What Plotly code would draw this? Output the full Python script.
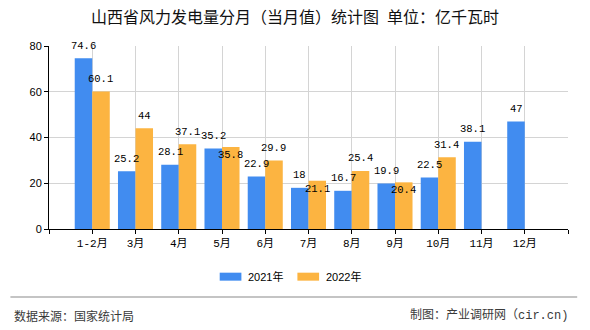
import plotly.graph_objects as go

categories = ["1-2月", "3月", "4月", "5月", "6月", "7月", "8月", "9月", "10月", "11月", "12月"]
values_2021 = [74.6, 25.2, 28.1, 35.2, 22.9, 18, 16.7, 19.9, 22.5, 38.1, 47]
values_2022 = [60.1, 44, 37.1, 35.8, 29.9, 21.1, 25.4, 20.4, 31.4, None, None]
series_names = ["2021年", "2022年"]
# label placement: "out" above bar top, "in" just inside the bar top
place_2021 = ["out"] * 11
place_2022 = ["out", "out", "out", "in", "out", "in", "out", "in", "out", "out", "out"]

y_ticks = [0, 20, 40, 60, 80]
title_text = "山西省风力发电量分月（当月值）统计图\u2002单位：亿千瓦时"
source_text = "数据来源：国家统计局"
credit_text = "制图：产业调研网（cir.cn)"

BLUE = "#418CF0"
ORANGE = "#FCB441"
W, H = 590, 330
ML, MR, MT, MB = 49.3, 21.7, 46, 100.5
PW = W - ML - MR
PH = H - MT - MB

xs = list(range(len(categories)))

fig = go.Figure()
fig.add_trace(go.Bar(x=xs, y=values_2021, name=series_names[0], marker_color=BLUE,
                     marker_line_width=0, showlegend=False))
fig.add_trace(go.Bar(x=xs, y=values_2022, name=series_names[1], marker_color=ORANGE,
                     marker_line_width=0, showlegend=False))

def fmt(v):
    return ("%g" % v)

lab_font = dict(family="Liberation Mono, DejaVu Sans Mono, monospace", size=10.5, color="#000")
annotations = []
half = 8.7
for vals, places, sh in ((values_2021, place_2021, -half), (values_2022, place_2022, half)):
    for i, (v, p) in enumerate(zip(vals, places)):
        if v is None:
            continue
        annotations.append(dict(x=i, y=v, xref="x", yref="y", text=fmt(v), showarrow=False,
                                xanchor="center", yanchor="middle", xshift=sh,
                                yshift=(12.5 if p == "out" else -8), font=lab_font))

def px_to_paper_x(px):
    return (px - ML) / PW

def px_to_paper_y(py):
    return (H - MB - py) / PH

shapes = [dict(type="line", xref="paper", yref="paper",
               x0=px_to_paper_x(10.7), x1=px_to_paper_x(577.5),
               y0=px_to_paper_y(297.7), y1=px_to_paper_y(297.7),
               line=dict(color="#8a8a8a", width=1.2))]

# custom legend (wide flat swatches as in the reference)
legend_items = [(series_names[0], BLUE, 220.0), (series_names[1], ORANGE, 297.7)]
for name, col, x0 in legend_items:
    shapes.append(dict(type="rect", xref="paper", yref="paper",
                       x0=px_to_paper_x(x0), x1=px_to_paper_x(x0 + 21.7),
                       y0=px_to_paper_y(281.3), y1=px_to_paper_y(273.3),
                       fillcolor=col, line=dict(width=0)))
    annotations.append(dict(text=name, xref="paper", yref="paper",
                            x=px_to_paper_x(x0 + 26.5), y=px_to_paper_y(277.3),
                            xanchor="left", yanchor="middle", showarrow=False,
                            font=dict(family="Liberation Sans, Noto Sans CJK SC", size=11, color="#000")))

annotations.append(dict(text=source_text, xref="paper", yref="paper",
                        x=px_to_paper_x(12), y=px_to_paper_y(316.7), xanchor="left", yanchor="middle",
                        showarrow=False, font=dict(family="Noto Sans CJK SC", size=12, color="#3a3a3a")))
annotations.append(dict(text=credit_text, xref="paper", yref="paper",
                        x=px_to_paper_x(570), y=px_to_paper_y(316.7), xanchor="right", yanchor="middle",
                        showarrow=False, font=dict(family="Liberation Mono, Noto Sans CJK SC", size=12, color="#3a3a3a")))

fig.update_layout(
    width=W, height=H,
    margin=dict(l=ML, r=MR, t=MT, b=MB, pad=0),
    paper_bgcolor="white", plot_bgcolor="white",
    barmode="group", bargap=0.19, bargroupgap=0,
    title=dict(text=title_text, x=0.5, xanchor="center", xref="container",
               y=1 - 17 / H, yanchor="middle",
               font=dict(family="Noto Sans CJK SC", size=16, color="#111")),
    showlegend=False,
    annotations=annotations,
    shapes=shapes,
)

fig.update_xaxes(range=[-1, len(categories)], tickmode="array",
                 tickvals=list(range(-1, len(categories) + 1)),
                 ticktext=[""] + categories + [""],
                 showgrid=True, gridcolor="#d4d4d4", gridwidth=1,
                 showline=True, linecolor="#000", linewidth=1,
                 ticks="outside", ticklen=4, tickcolor="#000",
                 tickfont=dict(family="Liberation Mono, Noto Sans CJK SC", size=11, color="#000"),
                 zeroline=False, fixedrange=True)
fig.update_yaxes(range=[0, 80], tickmode="array", tickvals=y_ticks,
                 showgrid=True, gridcolor="#d4d4d4", gridwidth=1,
                 showline=True, linecolor="#000", linewidth=1,
                 ticks="outside", ticklen=4, tickcolor="#000",
                 tickfont=dict(family="Liberation Sans, Arial", size=11, color="#000"),
                 zeroline=False, fixedrange=True)

fig.write_html("out.html")
